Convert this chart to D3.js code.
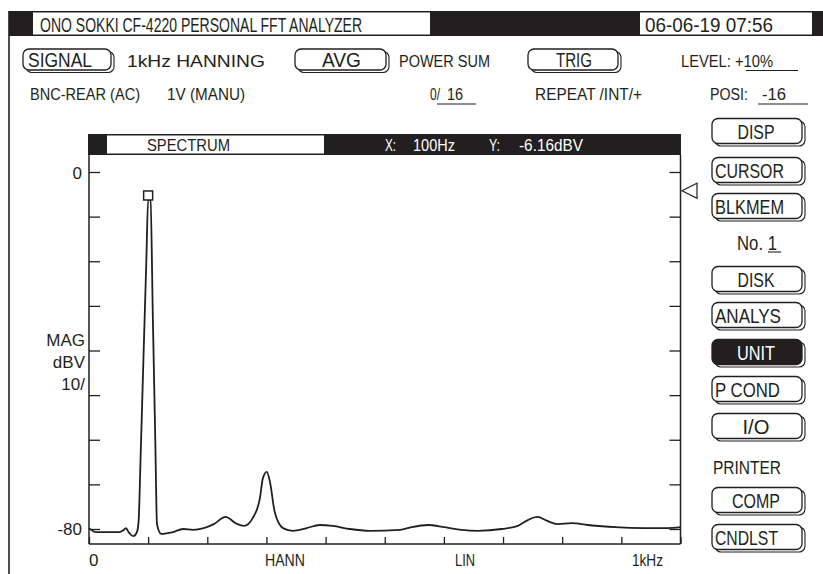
<!DOCTYPE html>
<html>
<head>
<meta charset="utf-8">
<script src="https://cdn.jsdelivr.net/npm/d3@7"></script>
<style>
  html, body { margin: 0; padding: 0; background: #fff; }
  svg text { font-family: "Liberation Sans Narrow", "Liberation Sans", Arial, sans-serif; fill: #231f20; }
</style>
</head>
<body>
<svg id="screen"></svg>
<script>
// spectrum trace (Hz / dBV)
const freqHz = [0, 12, 32, 51, 58, 62.5, 66, 68, 75, 81, 84, 87, 92, 97, 100, 104, 108, 112, 115, 122,
  142, 159, 176, 194, 211, 231, 248, 262, 277, 289, 294, 300.7, 306, 314, 328, 345, 368, 390, 412, 441,
  475, 525, 539, 573, 601, 630, 657, 698, 725, 742, 758, 775, 792, 816, 843, 889, 939, 978, 1000];
const magDbv = [-79.8, -80.7, -80.7, -80.7, -80.3, -79.8, -80.5, -80.9, -81.6, -80.7, -78, -65, -42, -19.6, -6.16, -6.4, -33, -59.6, -79, -81.1,
  -80.7, -80, -80.2, -79.8, -78.9, -77.3, -78.7, -79.3, -77.5, -73.1, -68.6, -67.2, -69.5, -76.2, -79.8, -80.4, -79.8, -79.1, -79.3, -80,
  -80.4, -80.2, -79.8, -79.1, -79.6, -80.2, -80.4, -80, -79.3, -78, -77.3, -78.2, -78.9, -78.7, -79.1, -79.6, -79.8, -79.8, -79.6];

const yTickValues = [0, -10, -20, -30, -40, -50, -60, -70, -80];
const xTickValues = [0, 100, 200, 300, 400, 500, 600, 700, 800, 900, 1000];
const cursor = { freq: 100, mag: -6.16 };
const triggerLevel = -4.2;

const sideButtons = ['DISP', 'CURSOR', 'BLKMEM', null, 'DISK', 'ANALYS', 'UNIT', 'P COND', 'I/O', null, 'COMP', 'CNDLST'];

const ink = '#231f20';
const width = 823, height = 574;

const svg = d3.select('#screen').attr('width', width).attr('height', height);

function txt(g, x, y, s, size, opts) {
  opts = opts || {};
  const t = g.append('text').attr('x', x).attr('y', y).attr('font-size', size).text(s);
  if (opts.anchor) t.attr('text-anchor', opts.anchor);
  if (opts.len) t.attr('textLength', opts.len).attr('lengthAdjust', 'spacingAndGlyphs');
  if (opts.fill) t.style('fill', opts.fill);
  return t;
}

function line(g, x1, y1, x2, y2, w) {
  g.append('line').attr('x1', x1).attr('y1', y1).attr('x2', x2).attr('y2', y2)
    .attr('stroke', ink).attr('stroke-width', w || 1.3);
}

function button(g, x, y, w, h, dark) {
  g.append('rect').attr('x', x + 3).attr('y', y + 2.5).attr('width', w).attr('height', h).attr('rx', 6)
    .attr('fill', '#fff').attr('stroke', ink).attr('stroke-width', 1.1);
  g.append('rect').attr('x', x).attr('y', y).attr('width', w).attr('height', h).attr('rx', 6)
    .attr('fill', dark ? ink : '#fff').attr('stroke', ink).attr('stroke-width', 1.3);
}

//Header bar
const head = svg.append('g');
head.append('rect').attr('x', 9).attr('y', 11).attr('width', width - 9).attr('height', 25).attr('fill', ink);
head.append('rect').attr('x', 33).attr('y', 12.5).attr('width', 397).attr('height', 22).attr('fill', '#fff');
head.append('rect').attr('x', 640).attr('y', 12.5).attr('width', 172).attr('height', 22).attr('fill', '#fff');
txt(head, 40, 32, 'ONO SOKKI CF-4220 PERSONAL FFT ANALYZER', 20, { len: 322 });
txt(head, 645, 32, '06-06-19 07:56', 20, { len: 128 });
line(svg, 9, 11, 9, height, 1.6);

//Setting rows
const rows = svg.append('g');
button(rows, 23, 49, 88, 21);
txt(rows, 28, 67, 'SIGNAL', 20, { len: 64 });
txt(rows, 127, 67, '1kHz HANNING', 16, { len: 138 });
button(rows, 295, 49, 91, 21);
txt(rows, 322, 67, 'AVG', 20, { len: 39 });
txt(rows, 399, 67, 'POWER SUM', 16, { len: 91 });
button(rows, 528, 49, 90, 21);
txt(rows, 556, 67, 'TRIG', 20, { len: 36 });
txt(rows, 681, 67, 'LEVEL: +10%', 16, { len: 92 });
line(rows, 746, 70.5, 798, 70.5, 1.1);

txt(rows, 30, 100, 'BNC-REAR (AC)', 16, { len: 110 });
txt(rows, 167, 100, '1V (MANU)', 16, { len: 78 });
txt(rows, 430, 100, '0/', 16, { len: 10 });
txt(rows, 447, 100, '16', 16, { len: 16 });
line(rows, 437, 104, 476, 104, 1.1);
txt(rows, 535, 100, 'REPEAT  /INT/+', 16, { len: 107 });
txt(rows, 710, 100, 'POSI:', 16, { len: 38 });
txt(rows, 762, 100, '-16', 16, { len: 24 });
line(rows, 758, 104, 808, 104, 1.1);

//Spectrum plot
const x = d3.scaleLinear().domain([0, 1000]).range([89, 680.5]);
const y = d3.scaleLinear().domain([-80, 0]).range([529, 172]);
const plotTop = 155, plotBottom = 544;

const plot = svg.append('g');
plot.append('rect').attr('x', 88).attr('y', 134).attr('width', 593).attr('height', 21).attr('fill', ink);
plot.append('rect').attr('x', 107).attr('y', 135.5).attr('width', 217).attr('height', 18).attr('fill', '#fff');
txt(plot, 147, 151, 'SPECTRUM', 17, { len: 83 });
txt(plot, 385, 151, 'X:', 17, { fill: '#fff', len: 11 });
txt(plot, 413, 151, cursor.freq + 'Hz', 17, { fill: '#fff', len: 42 });
txt(plot, 489, 151, 'Y:', 17, { fill: '#fff', len: 11 });
txt(plot, 519, 151, cursor.mag.toFixed(2) + 'dBV', 17, { fill: '#fff', len: 64 });

line(plot, x(0), plotTop, x(0), plotBottom, 1.5);
line(plot, x(1000), plotTop, x(1000), plotBottom, 1.5);
line(plot, x(0), plotBottom, x(1000), plotBottom, 1.5);

plot.append('g')
  .attr('transform', 'translate(' + x(0) + ',0)')
  .call(d3.axisRight(y).tickValues(yTickValues).tickSize(11).tickSizeOuter(0).tickFormat(''))
  .call(g => g.select('.domain').remove());
plot.append('g')
  .attr('transform', 'translate(' + x(1000) + ',0)')
  .call(d3.axisLeft(y).tickValues(yTickValues).tickSize(11).tickSizeOuter(0).tickFormat(''))
  .call(g => g.select('.domain').remove());
plot.append('g')
  .attr('transform', 'translate(0,' + plotBottom + ')')
  .call(d3.axisTop(x).tickValues(xTickValues).tickSize(7).tickSizeOuter(0).tickFormat(''))
  .call(g => g.select('.domain').remove());
plot.selectAll('.tick line').attr('stroke', ink).attr('stroke-width', 1.3);

txt(plot, 82, 179, '0', 17, { anchor: 'end' });
txt(plot, 82, 535, '-80', 17, { anchor: 'end' });
txt(plot, 85, 346, 'MAG', 17, { anchor: 'end' });
txt(plot, 85, 368, 'dBV', 17, { anchor: 'end' });
txt(plot, 85, 390, '10/', 17, { anchor: 'end' });

txt(plot, 89, 566, '0', 17);
txt(plot, 265, 566, 'HANN', 17, { len: 40 });
txt(plot, 455, 566, 'LIN', 17, { len: 20 });
txt(plot, 632, 566, '1kHz', 17, { len: 31 });

const trace = freqHz.map((f, i) => [f, magDbv[i]]);
plot.append('path')
  .datum(trace)
  .attr('fill', 'none')
  .attr('stroke', ink)
  .attr('stroke-width', 1.8)
  .attr('stroke-linejoin', 'round')
  .attr('d', d3.line().x(d => x(d[0])).y(d => y(d[1])).curve(d3.curveMonotoneX));

plot.append('rect')
  .attr('x', x(cursor.freq) - 4.5).attr('y', y(cursor.mag) - 8.5)
  .attr('width', 9).attr('height', 9)
  .attr('fill', '#fff').attr('stroke', ink).attr('stroke-width', 1.5);

const ty = y(triggerLevel);
plot.append('path')
  .attr('d', 'M682,' + ty + 'L697,' + (ty - 7.5) + 'L697,' + (ty + 7.5) + 'Z')
  .attr('fill', 'none').attr('stroke', ink).attr('stroke-width', 1.2);

//Right panel
const side = svg.append('g');
const centers = [131, 170, 206, 242, 279, 315, 352, 389, 426, 466, 500, 537];
const textLen = { DISP: 37, CURSOR: 69, BLKMEM: 69, DISK: 37, ANALYS: 66, UNIT: 38, 'P COND': 65, 'I/O': 27, COMP: 48, CNDLST: 63 };
sideButtons.forEach((label, i) => {
  const c = centers[i];
  if (label === null) return;
  const dark = label === 'UNIT';
  button(side, 712, c - 12.5, 90, 25, dark);
  const w = textLen[label];
  const start = w > 60 ? 715 : 756 - w / 2;
  txt(side, start, c + 7.5, label, 21, { len: w, fill: dark ? '#fff' : null });
});
txt(side, 737, centers[3] + 7.5, 'No. 1', 20, { len: 40 });
line(side, 768, centers[3] + 10, 781, centers[3] + 10, 1.1);
txt(side, 713, centers[9] + 7.5, 'PRINTER', 19, { len: 68 });
</script>
</body>
</html>
